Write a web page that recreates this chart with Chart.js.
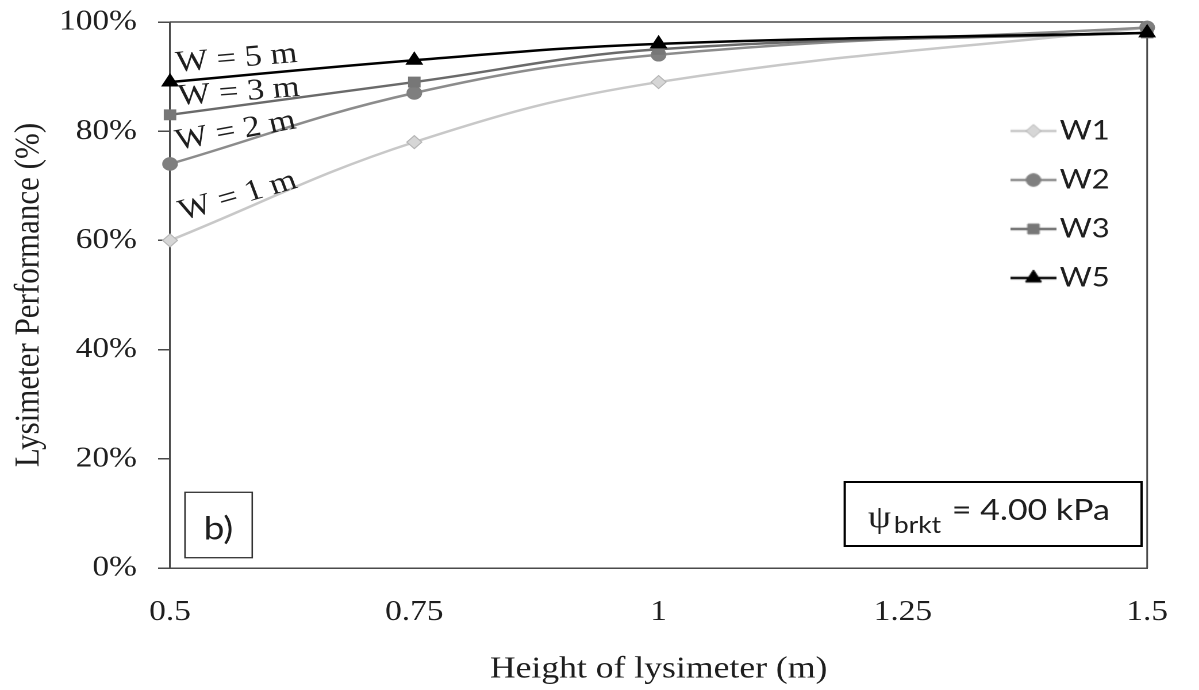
<!DOCTYPE html>
<html>
<head>
<meta charset="utf-8">
<script src="https://cdn.jsdelivr.net/npm/chart.js@4.4.1/dist/chart.umd.min.js"></script>
<style>
html,body{margin:0;padding:0;background:#ffffff;overflow:hidden;}
#wrap{position:absolute;left:0;top:0;width:1043px;height:690px;transform:scaleX(1.1496);transform-origin:0 0;}
</style>
</head>
<body>
<div id="wrap"><canvas id="c"></canvas></div>
<script>
// ---- data ----
const heights = [0.5, 0.75, 1, 1.5];
const w1 = [60, 78, 89, 99];
const w2 = [74, 87, 94, 99];
const w3 = [83, 89, 95, 98];
const w5 = [89, 93, 96, 98];
const seriesNames = ['W1', 'W2', 'W3', 'W5'];
const xTickValues = [0.5, 0.75, 1, 1.25, 1.5];
const xTickLabels = ['0.5', '0.75', '1', '1.25', '1.5'];
const yTickValues = [0, 20, 40, 60, 80, 100];
const yTickLabels = ['0%', '20%', '40%', '60%', '80%', '100%'];
const curveLabels = ['W = 1 m', 'W = 2 m', 'W = 3 m', 'W = 5 m'];
const panelLabel = 'b)';
const xTitle = 'Height of lysimeter (m)';
const yTitle = 'Lysimeter Performance (%)';

// ---- styles ----
const serif = "'Liberation Serif', 'Times New Roman', serif";
const sans = "Lato, 'Open Sans', sans-serif";
const txt = '#1e1e1e';
const axisCol = '#4a4a4a';
const seriesValues = [w1, w2, w3, w5];
const seriesStyle = [
  {line: '#c8c8c8', fill: '#d6d6d6', border: '#b4b4b4', shape: 'rectRot', r: 6.5, order: 3},
  {line: '#8c8c8c', fill: '#7f7f7f', border: '#7f7f7f', shape: 'circle', r: 6.3, order: 2},
  {line: '#6a6a6a', fill: '#777777', border: '#777777', shape: 'rect', r: 7, order: 1},
  {line: '#000000', fill: '#000000', border: '#000000', shape: 'triangle', r: 8, order: 0}
];
// annotation anchors in data units (left end of the text baseline) + angle in degrees
const curveLabelPlace = [
  {x: 0.513, y: 63.7, angle: 18.0},
  {x: 0.508, y: 76.6, angle: 11.8},
  {x: 0.509, y: 84.8, angle: 4.9},
  {x: 0.5067, y: 90.9, angle: 5.3}
];

function drawShape(g, st, x, y) {
  g.fillStyle = st.fill; g.strokeStyle = st.border; g.lineWidth = 1;
  if (Chart.helpers && Chart.helpers.drawPoint) {
    Chart.helpers.drawPoint(g, {pointStyle: st.shape, radius: st.r, borderWidth: 1, rotation: 0}, x, y);
  } else {
    g.beginPath(); g.arc(x, y, st.r, 0, Math.PI * 2); g.fill(); g.stroke();
  }
}
function legendImage(st) {
  const c = document.createElement('canvas');
  c.width = 40; c.height = 20;
  const g = c.getContext('2d');
  g.strokeStyle = st.line; g.lineWidth = 2.5;
  g.beginPath(); g.moveTo(0, 10); g.lineTo(40, 10); g.stroke();
  drawShape(g, st, 20, 10);
  return c;
}
const legendImgs = seriesStyle.map(legendImage);

const datasets = seriesNames.map((name, i) => ({
  label: name,
  data: heights.map((h, k) => ({x: h, y: seriesValues[i][k]})),
  borderColor: seriesStyle[i].line,
  backgroundColor: seriesStyle[i].fill,
  pointBackgroundColor: seriesStyle[i].fill,
  pointBorderColor: seriesStyle[i].border,
  pointBorderWidth: 1,
  pointStyle: seriesStyle[i].shape,
  pointRadius: seriesStyle[i].r,
  borderWidth: 2.5,
  tension: 0.4,
  fill: false,
  clip: false,
  order: seriesStyle[i].order
}));

const decorPlugin = {
  id: 'decor',
  afterLayout(chart) {
    const lg = chart.legend;
    if (!lg) return;
    const w = lg.width;
    lg.left = 867.8; lg.top = 95.5;
    lg.right = lg.left + w;
    lg.bottom = chart.chartArea.bottom;
    lg.width = w; lg.height = lg.bottom - lg.top;
  },
  beforeDatasetsDraw(chart) {
    const {ctx, chartArea: a} = chart;
    ctx.save();
    ctx.strokeStyle = axisCol; ctx.lineWidth = 1.5;
    ctx.beginPath();
    ctx.moveTo(a.left, a.top); ctx.lineTo(a.right, a.top); ctx.lineTo(a.right, a.bottom);
    ctx.stroke();
    ctx.restore();
  },
  afterDatasetsDraw(chart) {
    const {ctx} = chart;
    const xs = chart.scales.x, ys = chart.scales.y;
    ctx.save();
    // curve annotations
    ctx.fillStyle = txt;
    ctx.font = "30px " + serif;
    ctx.textAlign = 'left'; ctx.textBaseline = 'alphabetic';
    curveLabels.forEach((t, i) => {
      const p = curveLabelPlace[i];
      ctx.save();
      ctx.translate(xs.getPixelForValue(p.x), ys.getPixelForValue(p.y));
      ctx.rotate(-p.angle * Math.PI / 180);
      ctx.fillText(t, 0, 0);
      ctx.restore();
    });
    // panel label box
    ctx.fillStyle = '#ffffff';
    ctx.fillRect(160.9, 492.3, 58.5, 65.4);
    ctx.strokeStyle = '#333333'; ctx.lineWidth = 1.3;
    ctx.strokeRect(160.9, 492.3, 58.5, 65.4);
    ctx.fillStyle = txt;
    ctx.font = "32px " + sans;
    ctx.textAlign = 'center';
    ctx.fillText(panelLabel, 190, 539.3);
    // suction box
    ctx.fillStyle = '#ffffff';
    ctx.fillRect(734.8, 482, 258.2, 64);
    ctx.strokeStyle = '#000000'; ctx.lineWidth = 2;
    ctx.strokeRect(734.8, 482, 258.2, 64);
    ctx.fillStyle = txt;
    ctx.textAlign = 'left';
    ctx.font = "32px " + serif;
    ctx.fillText('\u03C8', 755, 527);
    ctx.font = "23px " + sans;
    ctx.fillText('brkt', 777.5, 533);
    ctx.font = "29.5px " + sans;
    ctx.fillText('= 4.00 kPa', 828, 520);
    ctx.restore();
  }
};

new Chart(document.getElementById('c'), {
  type: 'line',
  data: {datasets},
  plugins: [decorPlugin],
  options: {
    responsive: true,
    maintainAspectRatio: false,
    animation: false,
    devicePixelRatio: 2,
    layout: {padding: {left: 0, right: 29, top: 22, bottom: 0}},
    plugins: {
      tooltip: {enabled: false},
      legend: {
        display: true,
        position: 'chartArea',
        align: 'start',
        labels: {
          usePointStyle: true,
          pointStyleWidth: 18.4,
          boxHeight: 27,
          padding: 22,
          color: txt,
          font: {family: sans, size: 27},
          generateLabels(chart) {
            return chart.data.datasets.map((ds, i) => ({
              text: ds.label, pointStyle: legendImgs[i], fillStyle: ds.backgroundColor,
              strokeStyle: ds.borderColor, lineWidth: 0, hidden: false, datasetIndex: i, fontColor: txt
            }));
          }
        }
      }
    },
    scales: {
      x: {
        type: 'linear', min: 0.5, max: 1.5,
        afterBuildTicks(s) { s.ticks = xTickValues.map(v => ({value: v})); },
        afterFit(s) { s.height = 122; },
        ticks: {
          callback: (v) => xTickLabels[xTickValues.indexOf(v)],
          font: {family: serif, size: 29}, color: txt, padding: 27, maxRotation: 0, autoSkip: false
        },
        grid: {display: false, drawTicks: false},
        border: {display: true, color: axisCol, width: 1.5},
        title: {display: true, text: xTitle, color: txt, font: {family: serif, size: 31}, padding: {top: 0, bottom: 2}}
      },
      y: {
        type: 'linear', min: 0, max: 100,
        afterBuildTicks(s) { s.ticks = yTickValues.map(v => ({value: v})); },
        afterFit(s) { s.width = 147.9; s.paddingTop = 0; s.paddingBottom = 0; },
        ticks: {
          callback: (v) => yTickLabels[yTickValues.indexOf(v)],
          font: {family: serif, size: 29}, color: txt, padding: 18.5
        },
        grid: {drawOnChartArea: false, drawTicks: true, tickLength: 10.4, color: axisCol, lineWidth: 1.5},
        border: {display: true, color: axisCol, width: 1.5},
        title: {display: true, text: yTitle, color: txt, font: {family: serif, size: 31}, padding: {top: 7, bottom: 0}}
      }
    }
  }
});
</script>
</body>
</html>
